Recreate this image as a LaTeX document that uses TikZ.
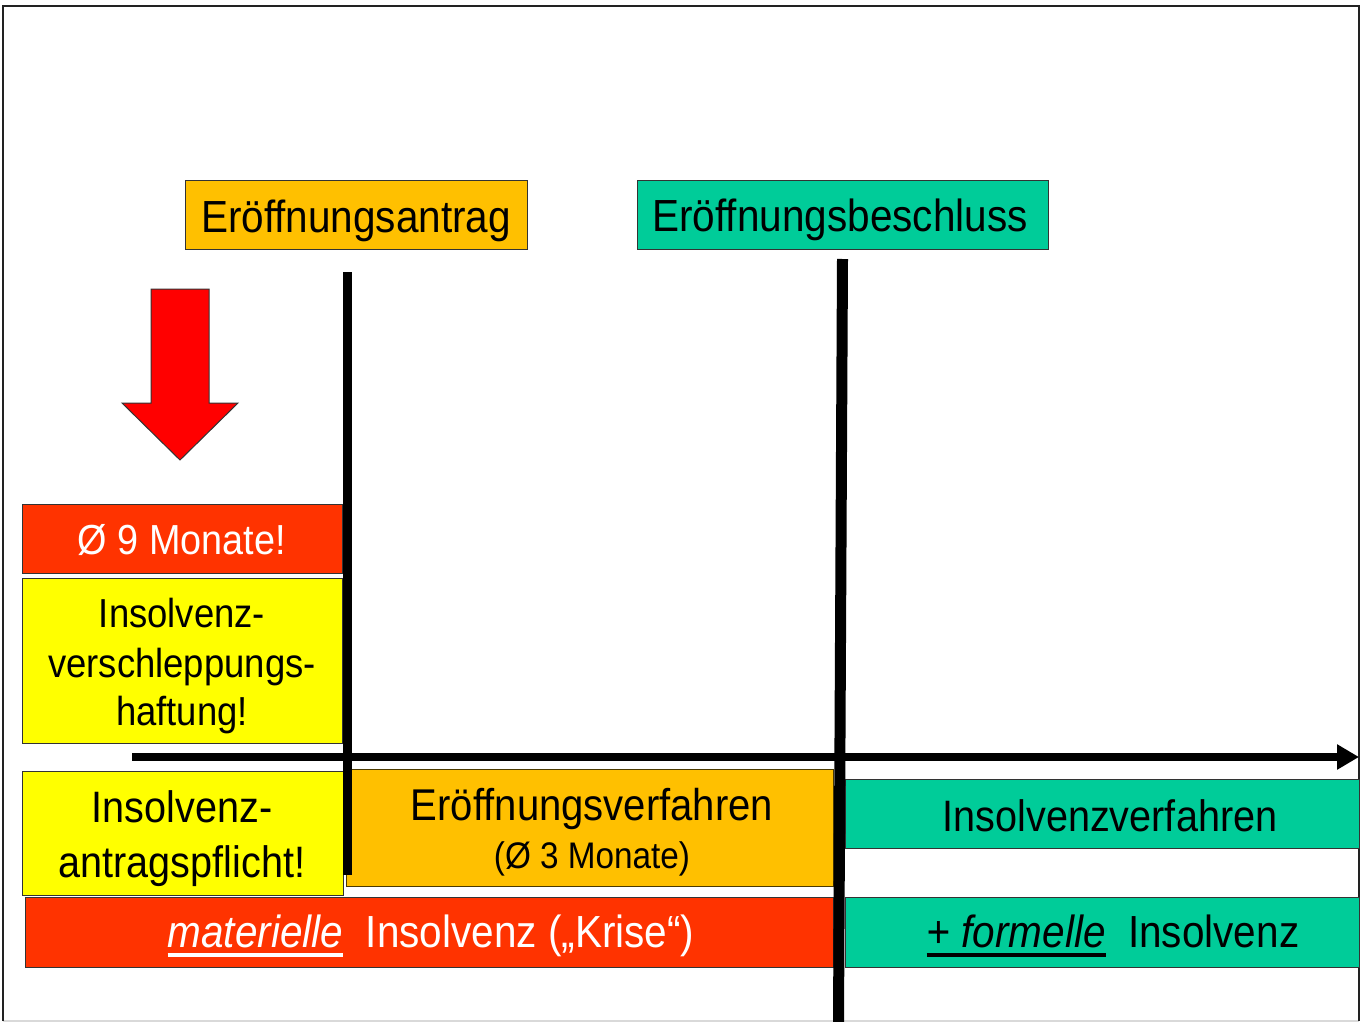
\documentclass[tikz,border=0pt]{standalone}
\usepackage{fontspec}
\setmainfont{Liberation Sans}[FakeStretch=0.9]
\usetikzlibrary{arrows.meta}
\definecolor{orangeY}{HTML}{FFC000}
\definecolor{greenB}{HTML}{00CC99}
\definecolor{redB}{HTML}{FF3300}
\definecolor{yellowB}{HTML}{FFFF00}
\definecolor{arrowRed}{HTML}{FF0000}
\definecolor{boxline}{HTML}{333333}
\definecolor{frameCol}{HTML}{222222}
\newcommand\fsz[1]{\fontsize{#1}{#1}\selectfont}
\newcommand\ulbar[1]{\setbox0=\hbox{#1}\rlap{\rule[-10pt]{\wd0}{4pt}}\box0}
\tikzset{
  box/.style={draw=boxline, line width=1pt, inner sep=0pt, outer sep=0pt},
  lbl/.style={anchor=base, inner sep=0pt, outer sep=0pt},
  bar/.style={line width=10pt, black},
}
\begin{document}
\begin{tikzpicture}[x=1pt,y=-1pt]
\useasboundingbox (0,0) rectangle (1362,1022);
\fill[white] (0,0) rectangle (1362,1022);
% frame
\draw[black!15, line width=1.5pt] (3,1021) -- (1359,1021);
\draw[frameCol, line width=1.5pt] (3,1021) -- (3,6) -- (1359,6) -- (1359,1021);

% top boxes
\node[box, fill=orangeY, minimum width=342, minimum height=69] (antrag) at (356,214.5) {};
\node[lbl, font=\fsz{45}] (tantrag) at (356,232) {Eröffnungsantrag};
\node[box, fill=greenB, minimum width=411, minimum height=69] (beschluss) at (842.5,214.5) {};
\node[lbl, font=\fsz{45}] (tbeschluss) at (840,231) {Eröffnungsbeschluss};

% red arrow
\draw[fill=arrowRed, draw=boxline, line width=1pt] (151,289) -- (209,289) -- (209,403) -- (238,403) -- (180,460) -- (122,403) -- (151,403) -- cycle;

% left boxes
\node[box, fill=redB, minimum width=320, minimum height=69] (neun) at (182,538.5) {};
\node[lbl, font=\fsz{42}, text=white] (tneun) at (182,554) {Ø 9 Monate!};
\node[box, fill=yellowB, minimum width=320, minimum height=165] (versch) at (182,660.5) {};
\node[lbl, font=\fsz{40.5}] (tversch1) at (182,627) {Insolvenz-};
\node[lbl, font=\fsz{40.5}] (tversch2) at (182,677) {verschleppungs-};
\node[lbl, font=\fsz{40.5}] (tversch3) at (182,725) {haftung!};
\node[box, fill=yellowB, minimum width=321, minimum height=124] (pflicht) at (182.5,833) {};
\node[lbl, font=\fsz{44}] (tpflicht1) at (182,822) {Insolvenz-};
\node[lbl, font=\fsz{44}] (tpflicht2) at (182,877) {antragspflicht!};

% middle / right boxes
\node[box, draw=black!70!orangeY, fill=orangeY, minimum width=487, minimum height=117] (verf) at (589.5,827.5) {};
\node[lbl, font=\fsz{44.5}] (tverf1) at (592,820) {Eröffnungsverfahren};
\node[lbl, font=\fsz{37}] (tverf2) at (592,868) {(Ø 3 Monate)};
\node[box, fill=greenB, minimum width=514, minimum height=69] (insverf) at (1102,813.5) {};
\node[lbl, font=\fsz{44}] (tinsverf) at (1110,831) {Insolvenzverfahren};
\node[box, fill=redB, minimum width=808, minimum height=70] (materiell) at (429,932) {};
\node[lbl, font=\fsz{45}, text=white] (tmateriell) at (431,947) {\ulbar{\itshape materielle}\hspace{0.5em}Insolvenz („Krise“)};
\node[box, fill=greenB, minimum width=514, minimum height=70] (formell) at (1102,932) {};
\node[lbl, font=\fsz{45}] (tformell) at (1113,947) {\ulbar{\itshape + formelle}\hspace{0.5em}Insolvenz};

% time axis
\coordinate (axstart) at (132,757);
\coordinate (axend) at (1359,757);
\draw[line width=8pt, -{Triangle[length=22pt,width=24pt]}] (axstart) -- (axend);

% vertical markers
\coordinate (l1top) at (347.5,272);
\coordinate (l1bot) at (347.5,875);
\draw[bar, line width=9.5pt] (l1top) -- (l1bot);
\coordinate (l2top) at (842.5,259);
\coordinate (l2bot) at (838.5,1022);
\draw[bar, line width=11pt] (l2top) -- (l2bot);
\end{tikzpicture}
\end{document}
